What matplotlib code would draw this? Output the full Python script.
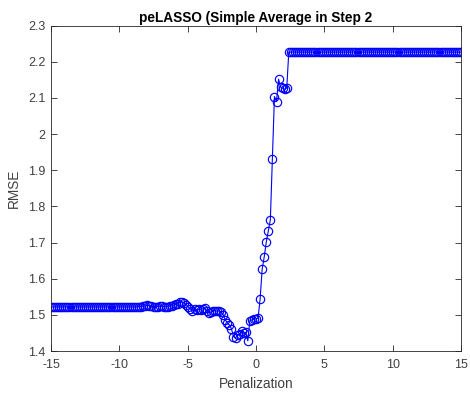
import numpy as np
import matplotlib
matplotlib.use("Agg")
import matplotlib.pyplot as plt
from matplotlib.ticker import FuncFormatter

plt.rcParams['font.family'] = ['Liberation Sans', 'DejaVu Sans']

# RMSE values, left flat segment (penalization -15 .. -8.55)
rmse_left = [
    1.522, 1.522, 1.522, 1.522, 1.522, 1.522, 1.522, 1.522, 1.522, 1.522,
    1.522, 1.522, 1.522, 1.522, 1.522, 1.522, 1.522, 1.522, 1.522, 1.522,
    1.522, 1.522, 1.522, 1.522, 1.522, 1.522, 1.522, 1.522, 1.522, 1.522,
    1.522, 1.522, 1.522, 1.522, 1.522, 1.522, 1.522, 1.522, 1.522, 1.522,
    1.522, 1.522, 1.522, 1.523,
]
# middle segment (penalization -8.4 .. 2.25)
rmse_mid = [
    1.523, 1.524, 1.525, 1.526, 1.525, 1.524, 1.523, 1.522, 1.523, 1.524,
    1.524, 1.523, 1.522, 1.523, 1.524, 1.525, 1.527, 1.529, 1.531, 1.535,
    1.536, 1.533, 1.528, 1.522, 1.516, 1.512, 1.515, 1.513, 1.515, 1.514,
    1.517, 1.518, 1.512, 1.505, 1.508, 1.510, 1.512, 1.510, 1.511, 1.508,
    1.500, 1.486, 1.478, 1.472, 1.462, 1.440, 1.436, 1.443, 1.447, 1.455,
    1.449, 1.452, 1.428,
    1.484, 1.486, 1.488, 1.489, 1.491, 1.543, 1.626, 1.660, 1.701, 1.732,
    1.763, 1.931, 2.104, 2.090, 2.152, 2.130, 2.127, 2.124, 2.128,
]
# right plateau (penalization 2.4 .. 15)
rmse_right = [
    2.227, 2.227, 2.227, 2.227, 2.227, 2.227, 2.227, 2.227, 2.227, 2.227,
    2.227, 2.227, 2.227, 2.227, 2.227, 2.227, 2.227, 2.227, 2.227, 2.227,
    2.227, 2.227, 2.227, 2.227, 2.227, 2.227, 2.227, 2.227, 2.227, 2.227,
    2.227, 2.227, 2.227, 2.227, 2.227, 2.227, 2.227, 2.227, 2.227, 2.227,
    2.227, 2.227, 2.227, 2.227, 2.227, 2.227, 2.227, 2.227, 2.227, 2.227,
    2.227, 2.227, 2.227, 2.227, 2.227, 2.227, 2.227, 2.227, 2.227, 2.227,
    2.227, 2.227, 2.227, 2.227, 2.227, 2.227, 2.227, 2.227, 2.227, 2.227,
    2.227, 2.227, 2.227, 2.227, 2.227, 2.227, 2.227, 2.227, 2.227, 2.227,
    2.227, 2.227, 2.227, 2.227, 2.227,
]
rmse = rmse_left + rmse_mid + rmse_right
penalization = np.linspace(-15, 15, len(rmse))

x_ticks = [-15, -10, -5, 0, 5, 10, 15]
y_ticks = [1.4, 1.5, 1.6, 1.7, 1.8, 1.9, 2.0, 2.1, 2.2, 2.3]

title = "peLASSO (Simple Average in Step 2"
xlabel = "Penalization"
ylabel = "RMSE"

fig = plt.figure(figsize=(4.70, 3.94), dpi=100)
ax = fig.add_axes([51/470, 1-351/394, 410/470, (351-25.7)/394])

blue = (0, 0, 1)
ax.plot(penalization, rmse, color=blue, lw=0.8, marker='o', markersize=6,
        markerfacecolor='none', markeredgecolor=blue, markeredgewidth=0.85)

ax.set_xlim(-15, 15)
ax.set_ylim(1.4, 2.3)
ax.set_xticks(x_ticks)
ax.set_yticks(y_ticks)
ax.yaxis.set_major_formatter(FuncFormatter(lambda v, p: f"{v:g}"))
ax.xaxis.set_major_formatter(FuncFormatter(lambda v, p: f"{v:g}"))

axc = '#262626'
for s in ax.spines.values():
    s.set_color(axc)
    s.set_linewidth(0.6)
ax.tick_params(direction='in', top=True, right=True, length=4, width=0.6,
               colors=axc, labelsize=9, pad=3)
ax.tick_params(axis='both', labelcolor='#404040')
ax.tick_params(axis='x', pad=6)
ax.tick_params(axis='y', pad=4)

ax.set_xlabel(xlabel, fontsize=9.8, color='#404040', labelpad=4)
ax.set_ylabel(ylabel, fontsize=9.8, color='#404040', labelpad=5)
ax.set_title(title, fontsize=9.8, fontweight='bold', color='black', pad=3)

fig.savefig("out.png", dpi=100)
